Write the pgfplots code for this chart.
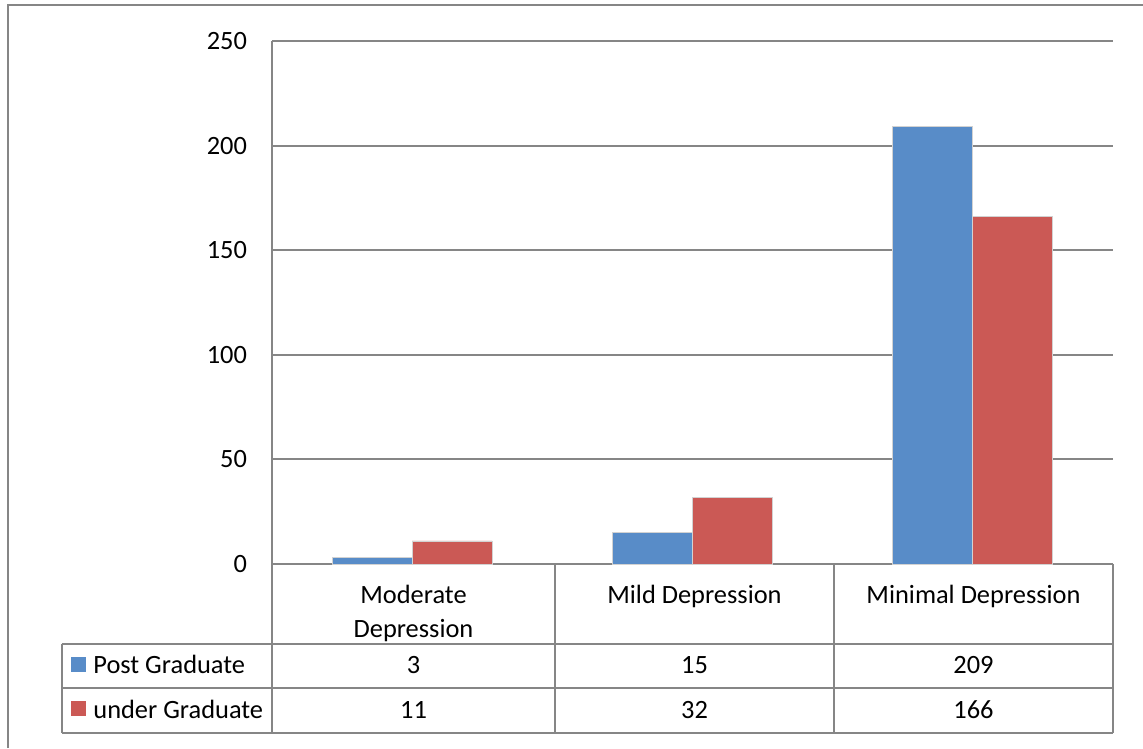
\documentclass[border=0pt]{standalone}
\usepackage{pgfplots}
\pgfplotsset{compat=1.18}
\usepackage{fontspec}
\setmainfont{Carlito}
\definecolor{pgblue}{RGB}{88,140,200}
\definecolor{ugred}{RGB}{203,89,85}
\definecolor{linegray}{RGB}{134,134,134}
\begin{document}
\begin{tikzpicture}[font=\fontsize{13.2}{15.8}\selectfont]
  \begin{axis}[
      at={(0,0)}, anchor=south west,
      scale only axis,
      width=420.5pt, height=261.5pt,
      ybar, bar width=40pt,
      xmin=-0.5, xmax=2.5,
      ymin=0, ymax=250,
      ytick={0,50,...,250},
      xtick=\empty,
      axis lines*=left,
      axis line style={linegray, line width=1pt},
      ymajorgrids,
      major grid style={linegray, line width=1pt},
      major tick length=0pt,
      /pgf/number format/assume math mode=true,
      yticklabel style={font=\fontsize{13.2}{15.8}\selectfont, xshift=-9pt},
      clip=false,
    ]
    \addplot[fill=pgblue, draw=gray!35, line width=0.4pt, bar shift=-20pt]
      coordinates {(0,3) (1,15) (2,209)};
    \addplot[fill=ugred, draw=gray!35, line width=0.4pt, bar shift=20pt]
      coordinates {(0,11) (1,32) (2,166)};
  \end{axis}
  \begin{scope}[shift={(-136pt,282pt)}, x=0.5pt, y=-0.5pt]
    % outer chart border (cropped)
    \draw[linegray, line width=1pt] (8,748) -- (8,5) -- (1143,5);
    % data table
    \begin{scope}[linegray, line width=1pt]
      \draw (272,564) -- (272,733);
      \draw (555,564) -- (555,733);
      \draw (834,564) -- (834,733);
      \draw (1113,564) -- (1113,733);
      \draw (62,644) -- (1113,644);
      \draw (62,688) -- (1113,688);
      \draw (62,733) -- (1113,733);
      \draw (62,644) -- (62,733);
    \end{scope}
    \node[anchor=base] at (413.5,604) {Moderate};
    \node[anchor=base] at (413.5,638) {Depression};
    \node[anchor=base] at (694.5,604) {Mild Depression};
    \node[anchor=base] at (973.5,604) {Minimal Depression};
    \fill[pgblue] (71,657) rectangle (86,672);
    \fill[ugred] (71,701) rectangle (86,716);
    \node[anchor=base west, inner sep=0pt] at (93,673) {Post Graduate};
    \node[anchor=base west, inner sep=0pt] at (93,718) {under Graduate};
    \node[anchor=base] at (413.5,673) {3};
    \node[anchor=base] at (694.5,673) {15};
    \node[anchor=base] at (973.5,673) {209};
    \node[anchor=base] at (413.5,718) {11};
    \node[anchor=base] at (694.5,718) {32};
    \node[anchor=base] at (973.5,718) {166};
    \pgfresetboundingbox
    \useasboundingbox (0,0) rectangle (1143,748);
  \end{scope}
\end{tikzpicture}
\end{document}
